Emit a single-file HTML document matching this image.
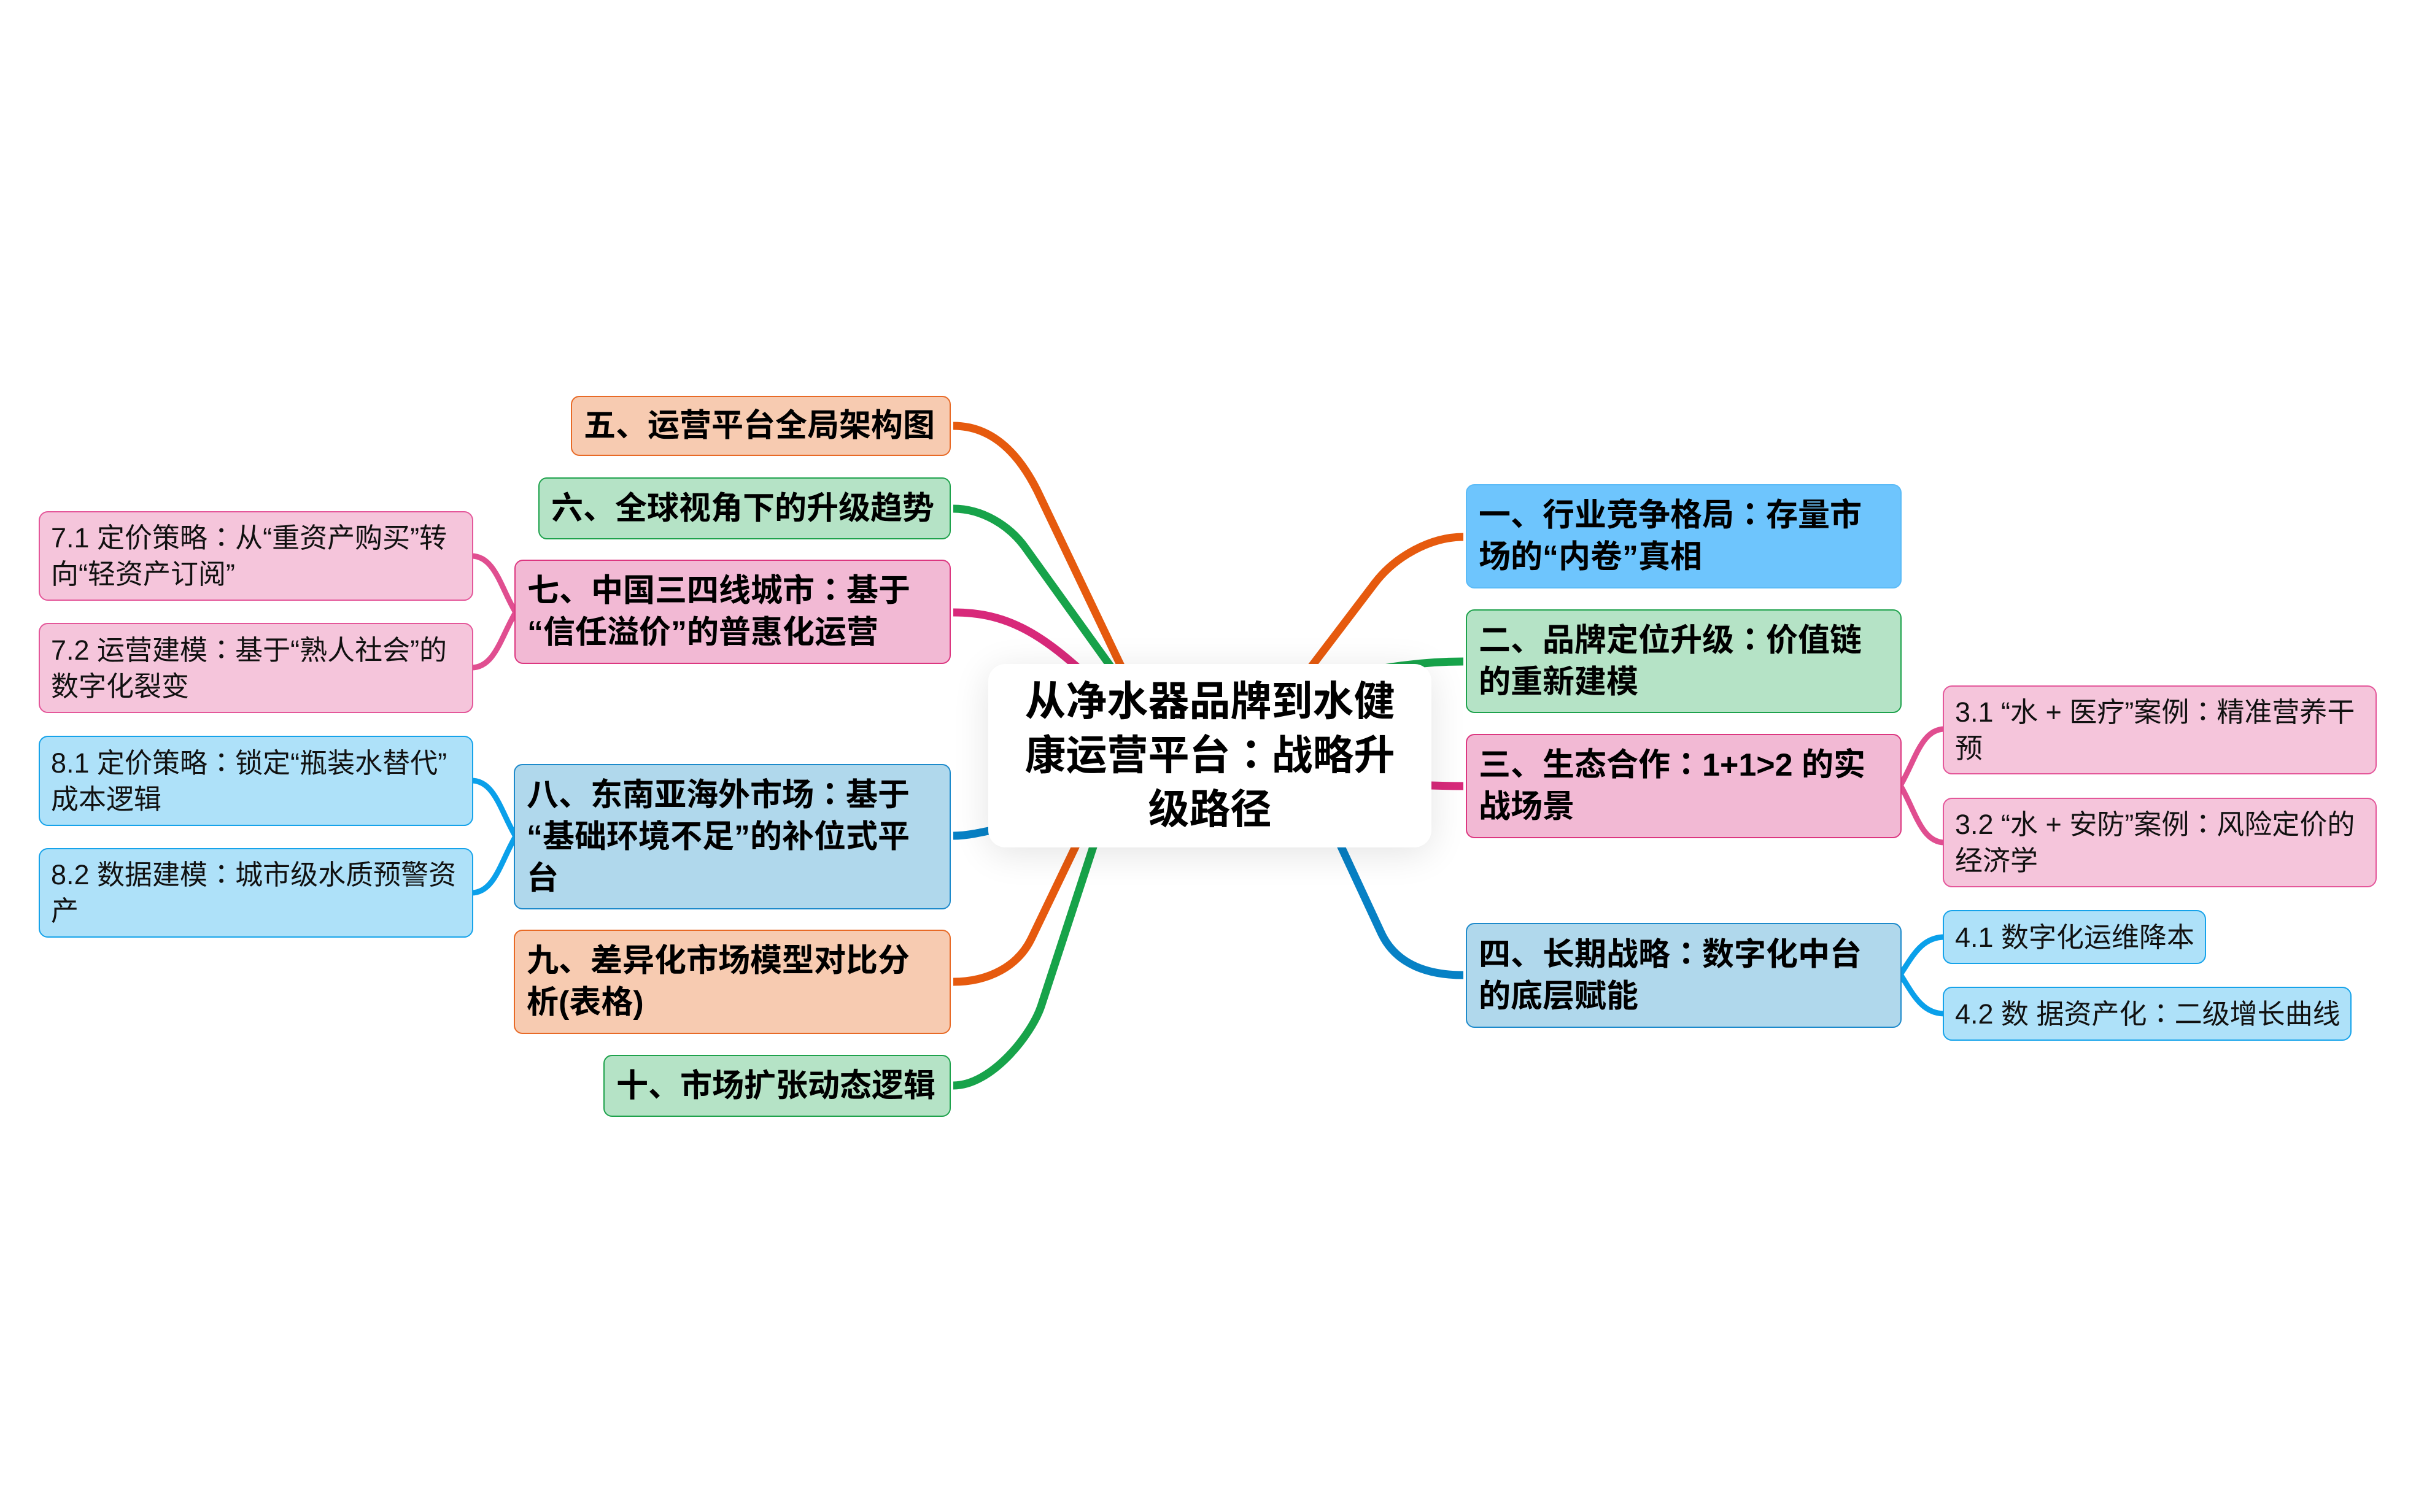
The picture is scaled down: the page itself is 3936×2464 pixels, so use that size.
<!DOCTYPE html>
<html>
<head>
<meta charset="utf-8">
<style>
  html, body { margin: 0; padding: 0; }
  body {
    width: 3936px; height: 2464px; position: relative; overflow: hidden;
    background: #ffffff;
    font-family: "Liberation Sans", "Noto Sans CJK SC", "WenQuanYi Zen Hei", sans-serif;
  }
  svg.links { position: absolute; left: 0; top: 0; z-index: 0; }
  .c { font-family: "Noto Sans CJK JP", "Noto Sans CJK TC", sans-serif; line-height: 0; }
  .n {
    position: absolute; box-sizing: border-box; z-index: 2;
    display: flex; align-items: center;
    white-space: nowrap; color: #000;
  }
  .main {
    border: 2px solid; border-radius: 14px;
    font-size: 52px; line-height: 68px; font-weight: 700;
    padding-left: 19px;
  }
  .sub {
    border: 2px solid; border-radius: 15px;
    font-size: 45px; line-height: 59px; font-weight: 400;
    padding-left: 18px; color: #111;
  }
  .orange { background: #F7CBB1; border-color: #E86A26; }
  .green  { background: #B5E3C6; border-color: #1EA24C; }
  .pink   { background: #F2B9D4; border-color: #DC3780; }
  .blue   { background: #B0D8EC; border-color: #1D8ACB; }
  .sky    { background: #6EC5FD; border-color: #5BBBF7; }
  .spink  { background: #F5C5DB; border-color: #E4579A; }
  .sblue  { background: #AEE1F9; border-color: #16A3EA; }
  .center {
    position: absolute; z-index: 3; box-sizing: border-box;
    left: 1610px; top: 1082px; width: 722px; height: 299px;
    background: #ffffff; border-radius: 28px;
    box-shadow: 0 10px 60px rgba(0,0,0,0.11);
    display: flex; align-items: center; justify-content: center;
    text-align: center; font-size: 67px; line-height: 88px; font-weight: 700; color: #000;
    white-space: nowrap;
  }
</style>
</head>
<body>

<svg class="links" width="3936" height="2464" viewBox="0 0 3936 2464" xmlns="http://www.w3.org/2000/svg">
  <g fill="none" stroke-width="13" stroke-linecap="butt">
    <!-- left top -->
    <path d="M 1553 694 C 1620 694, 1662 744, 1690 800 L 1900 1240" stroke="#E65A0E"/>
    <path d="M 1553 829 C 1600 829, 1644 856, 1670 892 L 1920 1240" stroke="#17A34A"/>
    <path d="M 1553 998 C 1640 998, 1700 1030, 1800 1130" stroke="#D8297A"/>
    <!-- left bottom -->
    <path d="M 1553 1362 C 1580 1362, 1600 1356, 1700 1335" stroke="#0781C5"/>
    <path d="M 1553 1600 C 1610 1600, 1658 1575, 1680 1530 L 1800 1280" stroke="#E65A0E"/>
    <path d="M 1553 1769 C 1615 1769, 1680 1687, 1696 1640 L 1830 1230" stroke="#17A34A"/>
    <!-- right -->
    <path d="M 2384 875 C 2330 875, 2273 907, 2240 950 L 2050 1200" stroke="#E65A0E"/>
    <path d="M 2384 1078 C 2320 1078, 2260 1085, 2150 1110" stroke="#17A34A"/>
    <path d="M 2384 1281 C 2340 1281, 2300 1279, 2200 1272" stroke="#D8297A"/>
    <path d="M 2384 1589 C 2330 1589, 2275 1574, 2250 1520 L 2120 1240" stroke="#0781C5"/>
  </g>
  <g fill="none" stroke-width="9" stroke-linecap="round">
    <path d="M 3096 1280 C 3120 1240, 3130 1188, 3168 1188" stroke="#E04E90"/>
    <path d="M 3096 1280 C 3120 1320, 3130 1373, 3168 1373" stroke="#E04E90"/>
    <path d="M 3096 1588 C 3115 1560, 3130 1527, 3168 1527" stroke="#0AA0EA"/>
    <path d="M 3096 1588 C 3115 1617, 3130 1652, 3168 1652" stroke="#0AA0EA"/>
    <path d="M 840 998 C 816 958, 806 906, 768 906" stroke="#E04E90"/>
    <path d="M 840 998 C 816 1038, 806 1088, 768 1088" stroke="#E04E90"/>
    <path d="M 840 1363 C 816 1323, 806 1272, 768 1272" stroke="#0AA0EA"/>
    <path d="M 840 1363 C 816 1403, 806 1455, 768 1455" stroke="#0AA0EA"/>
  </g>
</svg>

<!-- center -->
<div class="center"><div>从净水器品牌到水健<br>康运营平台<span class="c">：</span>战略升<br>级路径</div></div>

<!-- right main nodes -->
<div class="n main sky"   style="left:2388px;top:789px;width:710px;height:170px;"><div>一、行业竞争格局<span class="c">：</span>存量市<br>场的“内卷”真相</div></div>
<div class="n main green" style="left:2388px;top:993px;width:710px;height:169px;"><div>二、品牌定位升级<span class="c">：</span>价值链<br>的重新建模</div></div>
<div class="n main pink"  style="left:2388px;top:1196px;width:710px;height:170px;"><div>三、生态合作<span class="c">：</span>1+1&gt;2 的实<br>战场景</div></div>
<div class="n main blue"  style="left:2388px;top:1504px;width:710px;height:171px;"><div>四、长期战略<span class="c">：</span>数字化中台<br>的底层赋能</div></div>

<!-- right sub nodes -->
<div class="n sub spink" style="left:3165px;top:1117px;width:707px;height:145px;"><div>3.1 “水 + 医疗”案例<span class="c">：</span>精准营养干<br>预</div></div>
<div class="n sub spink" style="left:3165px;top:1300px;width:707px;height:146px;"><div>3.2 “水 + 安防”案例<span class="c">：</span>风险定价的<br>经济学</div></div>
<div class="n sub sblue" style="left:3165px;top:1483px;width:429px;height:88px;"><div>4.1 数字化运维降本</div></div>
<div class="n sub sblue" style="left:3165px;top:1608px;width:666px;height:88px;"><div>4.2 数 据资产化<span class="c">：</span>二级增长曲线</div></div>

<!-- left main nodes -->
<div class="n main orange" style="left:930px;top:645px;width:619px;height:98px;"><div>五、运营平台全局架构图</div></div>
<div class="n main green"  style="left:877px;top:778px;width:672px;height:101px;"><div>六、全球视角下的升级趋势</div></div>
<div class="n main pink"   style="left:838px;top:912px;width:711px;height:170px;"><div>七、中国三四线城市<span class="c">：</span>基于<br>“信任溢价”的普惠化运营</div></div>
<div class="n main blue"   style="left:837px;top:1245px;width:712px;height:237px;"><div>八、东南亚海外市场<span class="c">：</span>基于<br>“基础环境不足”的补位式平<br>台</div></div>
<div class="n main orange" style="left:837px;top:1515px;width:712px;height:170px;"><div>九、差异化市场模型对比分<br>析(表格)</div></div>
<div class="n main green"  style="left:983px;top:1719px;width:566px;height:101px;"><div>十、市场扩张动态逻辑</div></div>

<!-- left sub nodes -->
<div class="n sub spink" style="left:63px;top:833px;width:708px;height:146px;"><div>7.1 定价策略<span class="c">：</span>从“重资产购买”转<br>向“轻资产订阅”</div></div>
<div class="n sub spink" style="left:63px;top:1015px;width:708px;height:147px;"><div>7.2 运营建模<span class="c">：</span>基于“熟人社会”的<br>数字化裂变</div></div>
<div class="n sub sblue" style="left:63px;top:1199px;width:708px;height:147px;"><div>8.1 定价策略<span class="c">：</span>锁定“瓶装水替代”<br>成本逻辑</div></div>
<div class="n sub sblue" style="left:63px;top:1382px;width:708px;height:146px;"><div>8.2 数据建模<span class="c">：</span>城市级水质预警资<br>产</div></div>

</body>
</html>
